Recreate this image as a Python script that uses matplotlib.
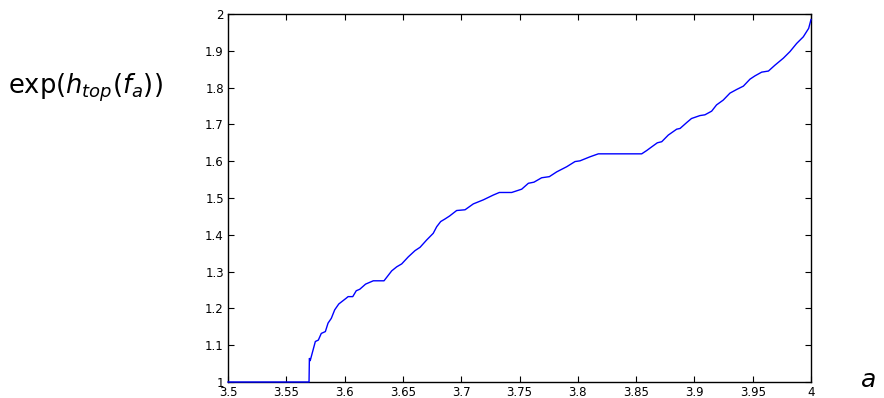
import matplotlib
matplotlib.use("Agg")
import matplotlib.pyplot as plt
import matplotlib.transforms as mtransforms
from matplotlib.ticker import MultipleLocator, FuncFormatter

a_vals = [3.5, 3.5695, 3.5698, 3.5705, 3.5749, 3.5775, 3.580, 3.5835, 3.5858, 3.5886,
          3.5915, 3.595, 3.6015, 3.603, 3.607, 3.610, 3.613, 3.618, 3.6246, 3.6338,
          3.6404, 3.6447, 3.649, 3.6546, 3.6604, 3.6647, 3.6704, 3.676, 3.679, 3.6824,
          3.6861, 3.690, 3.6961, 3.7033, 3.7104, 3.719, 3.7275, 3.7327, 3.7433, 3.7519,
          3.7576, 3.7624, 3.769, 3.7756, 3.7819, 3.7905, 3.7976, 3.8019, 3.8105, 3.8176,
          3.8548, 3.8591, 3.8634, 3.8682, 3.872, 3.8776, 3.8848, 3.8877, 3.8934, 3.8975,
          3.9048, 3.909, 3.9148, 3.919, 3.9247, 3.9305, 3.9363, 3.942, 3.9477, 3.952,
          3.9577, 3.9635, 3.9691, 3.9763, 3.982, 3.9877, 3.9934, 3.998, 4.0]
exp_h = [1.0, 1.0, 1.064, 1.058, 1.11, 1.114, 1.132, 1.137, 1.16, 1.173,
         1.196, 1.212, 1.228, 1.232, 1.232, 1.248, 1.252, 1.266, 1.275, 1.275,
         1.302, 1.313, 1.321, 1.34, 1.357, 1.366, 1.386, 1.404, 1.422, 1.436,
         1.443, 1.451, 1.466, 1.468, 1.484, 1.495, 1.508, 1.515, 1.515, 1.524,
         1.54, 1.543, 1.555, 1.558, 1.571, 1.585, 1.599, 1.601, 1.612, 1.620,
         1.620, 1.629, 1.639, 1.650, 1.653, 1.671, 1.687, 1.689, 1.705, 1.716,
         1.724, 1.726, 1.736, 1.753, 1.766, 1.785, 1.795, 1.804, 1.823, 1.832,
         1.842, 1.845, 1.861, 1.880, 1.898, 1.920, 1.938, 1.961, 1.985]

plt.rcParams['mathtext.fontset'] = 'dejavusans'
fig = plt.figure(figsize=(8.84, 3.98), dpi=100)
ax = fig.add_axes([228/884, 16/398, (811-228)/884, (382-14)/398])
ax.plot(a_vals, exp_h, color='#0000ff', lw=1.0, clip_on=False, zorder=3)
ax.set_xlim(3.5, 4.0)
ax.set_ylim(1.0, 2.0)
ax.xaxis.set_major_locator(MultipleLocator(0.05))
ax.yaxis.set_major_locator(MultipleLocator(0.1))
ax.xaxis.set_major_formatter(FuncFormatter(lambda v, p: ('%.2f' % v).rstrip('0').rstrip('.')))
ax.yaxis.set_major_formatter(FuncFormatter(lambda v, p: ('%.1f' % v).rstrip('0').rstrip('.')))
ax.tick_params(direction='in', top=True, right=True, length=4, width=0.8,
               labelsize=8.5)
ax.tick_params(axis='x', pad=3)
ax.tick_params(axis='y', pad=3)
for s in ax.spines.values():
    s.set_linewidth(1.0)

fig.canvas.draw()
for lab in ax.get_xticklabels() + ax.get_yticklabels():
    lab.set_fontfamily('DejaVu Sans')
# nudge the bottom y label ("1") slightly up as in the reference
ylabs = ax.yaxis.get_major_ticks()
if ylabs:
    t = ylabs[0].label1
    t.set_transform(t.get_transform() + mtransforms.ScaledTranslation(0, 3/100, fig.dpi_scale_trans))

fig.text(85/884, 1 - 88/398, r'$\mathrm{exp}(h_{top}(f_a))$', fontsize=18.5,
         ha='center', va='center')
fig.text(868/884, 1 - 380/398, r'$a$', fontsize=18, ha='center', va='center')

fig.savefig('out.png', dpi=100)
